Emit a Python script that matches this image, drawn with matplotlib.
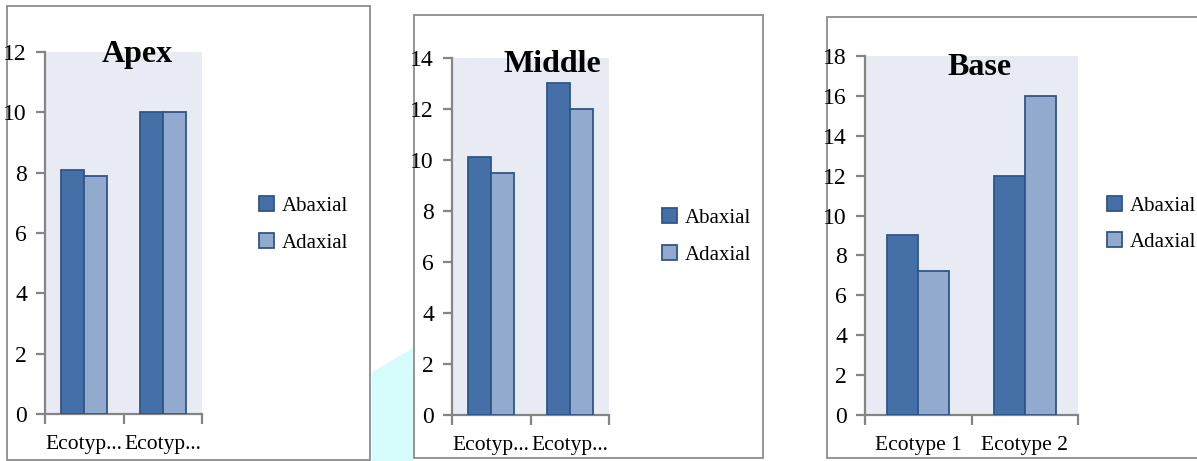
import matplotlib
matplotlib.use("Agg")
import matplotlib.pyplot as plt
from matplotlib.patches import Rectangle, Polygon
import numpy as np

# ---- data -------------------------------------------------------------
series_names = ["Abaxial", "Adaxial"]
labels_short = ["Ecotyp...", "Ecotyp..."]
labels_full = ["Ecotype 1", "Ecotype 2"]

apex_abaxial = [8.1, 10.0]
apex_adaxial = [7.9, 10.0]
middle_abaxial = [10.1, 13.0]
middle_adaxial = [9.5, 12.0]
base_abaxial = [9.0, 12.0]
base_adaxial = [7.2, 16.0]

titles = ["Apex", "Middle", "Base"]
y_max = [12, 14, 18]

# ---- style ------------------------------------------------------------
W, H = 1197, 461
FONT = "Liberation Serif"
C_ABAX = "#4570a7"
C_ADAX = "#93aacf"
C_EDGE = "#2f5689"
C_AXIS = "#858585"
C_BG = "#e8ebf3"

plt.rcParams["font.family"] = [FONT, "DejaVu Serif"]


def fx(px):
    return px / W


def fy(py):
    return 1 - py / H


fig = plt.figure(figsize=(W / 100, H / 100), dpi=100)
fig.patch.set_facecolor("white")

# light cyan shape behind the panels
fig.patches.append(Polygon(
    [(fx(372), fy(372)), (fx(413), fy(348)), (fx(413), fy(461)), (fx(372), fy(461))],
    closed=True, transform=fig.transFigure, facecolor="#d6fcfc",
    edgecolor="none", zorder=-2))

# panel frames (left, top, right, bottom in px)
frames = [(7, 6, 370, 460), (414, 15, 763, 458), (827, 17, 1205, 458)]
for l, t, r, b in frames:
    fig.patches.append(Rectangle((fx(l), fy(b)), fx(r - l), (b - t) / H,
                                 transform=fig.transFigure, facecolor="white",
                                 edgecolor="#8c8c8c", linewidth=1.3, zorder=-1))

# plot areas (left, top, right, bottom in px)
areas = [(45, 52, 202, 414), (452, 58, 609, 415), (865, 56, 1078, 415)]
title_pos = [(137, 62), (552, 72), (980, 75)]
legend_pos = [(259, 224.5), (662, 236.5), (1107, 224)]
values = [(apex_abaxial, apex_adaxial),
          (middle_abaxial, middle_adaxial),
          (base_abaxial, base_adaxial)]
xlabels = [labels_short, labels_short, labels_full]

bar_w = 0.29
for i in range(3):
    l, t, r, b = areas[i]
    ax = fig.add_axes([fx(l), fy(b), fx(r - l), (b - t) / H])
    ax.set_facecolor(C_BG)
    x = np.arange(len(labels_full))
    abax, adax = values[i]
    ax.bar(x - bar_w / 2, abax, bar_w, color=C_ABAX, edgecolor=C_EDGE,
           linewidth=1.3, label=series_names[0], zorder=3)
    ax.bar(x + bar_w / 2, adax, bar_w, color=C_ADAX, edgecolor=C_EDGE,
           linewidth=1.3, label=series_names[1], zorder=3)

    ax.set_xlim(-0.5, len(x) - 0.5)
    ax.set_ylim(0, y_max[i])
    ax.set_yticks(np.arange(0, y_max[i] + 1, 2))
    ax.set_xticks(x)
    ax.set_xticklabels(xlabels[i])
    ax.set_xticks(np.arange(-0.5, len(x), 1.0), minor=True)

    for s in ["top", "right"]:
        ax.spines[s].set_visible(False)
    for s in ["left", "bottom"]:
        ax.spines[s].set_color(C_AXIS)
        ax.spines[s].set_linewidth(1.6)

    ax.tick_params(axis="y", direction="out", length=6.5, width=1.6,
                   color=C_AXIS, pad=6.5, labelsize=17, labelcolor="black")
    ax.tick_params(axis="x", which="major", length=0, pad=15,
                   labelsize=15.5, labelcolor="black")
    ax.tick_params(axis="x", which="minor", direction="out", length=7,
                   width=1.6, color=C_AXIS)

    tx, ty = title_pos[i]
    fig.text(fx(tx), fy(ty), titles[i], ha="center", va="baseline",
             fontsize=23, fontweight="bold", family=[FONT, "DejaVu Serif"])

    lx, ly = legend_pos[i]
    ax.legend(loc="center left", bbox_to_anchor=(fx(lx), fy(ly)),
              bbox_transform=fig.transFigure, frameon=False, fontsize=15,
              handlelength=0.72, handleheight=0.72, handletextpad=0.38,
              labelspacing=0.8, borderpad=0, borderaxespad=0)

fig.savefig("out.png", dpi=100, facecolor="white")
